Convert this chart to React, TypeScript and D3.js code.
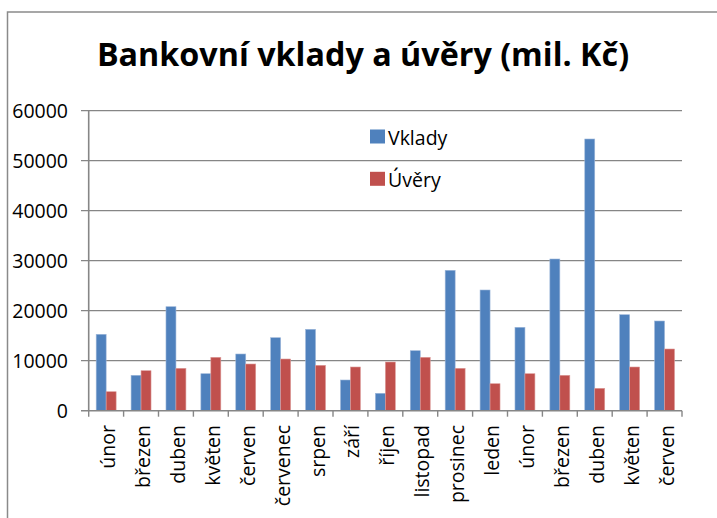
import React from "react";
import * as d3 from "d3";

const categories = ["únor", "březen", "duben", "květen", "červen", "červenec", "srpen", "září", "říjen", "listopad", "prosinec", "leden", "únor", "březen", "duben", "květen", "červen"];
const vklady = [15280, 7080, 20800, 7400, 11340, 14600, 16280, 6140, 3480, 12000, 28080, 24140, 16680, 30340, 54340, 19200, 17940];
const uvery = [3800, 8000, 8480, 10680, 9340, 10340, 9080, 8740, 9740, 10680, 8480, 5400, 7400, 7080, 4480, 8740, 12340];
const yTicks = [0, 10000, 20000, 30000, 40000, 50000, 60000];
const seriesNames = ["Vklady", "Úvěry"];
const colors = ["#4F81BD", "#C0504D"];

const W = 717;
const H = 518;
const FONT = "'Open Sans', 'Liberation Sans', sans-serif";

export default function App() {
  const left = 88.7;
  const right = 682;
  const top = 110.7;
  const bottom = 410.7;
  const idx = categories.map((_, i) => String(i));
  const x = d3.scaleBand<string>().domain(idx).range([left, right]).paddingInner(0).paddingOuter(0);
  const y = d3.scaleLinear().domain([0, 60000]).range([bottom, top]);
  const bw = x.bandwidth();
  const barW = bw / 3.5;
  const gridColor = "#868686";
  const series = [vklady, uvery];

  return (
    <svg width={W} height={H} style={{ position: "absolute", left: 0, top: 0 }} xmlns="http://www.w3.org/2000/svg">
      <rect x={0} y={0} width={W} height={H} fill="#fff" />
      <rect x={7.5} y={12} width={W + 10} height={H + 10} fill="none" stroke="#8a8a8a" strokeWidth={1.5} />
      <text x={363} y={65.5} textAnchor="middle" fontFamily={FONT} fontWeight="bold" fontSize={32.3} fill="#000">
        Bankovní vklady a úvěry (mil. Kč)
      </text>
      {yTicks.map((t) => (
        <g key={t}>
          {t !== 0 && (
            <line x1={81} x2={right} y1={y(t)} y2={y(t)} stroke={gridColor} strokeWidth={1.2} />
          )}
          <text x={68} y={y(t)} dy="0.36em" textAnchor="end" fontFamily={FONT} fontSize={19.5} fill="#000">
            {t}
          </text>
        </g>
      ))}
      {series.map((vals, si) =>
        vals.map((v, i) => (
          <rect
            key={si + "-" + i}
            x={(x(String(i)) as number) + (bw - 2 * barW) / 2 + si * barW}
            y={y(v)}
            width={barW}
            height={bottom - y(v)}
            fill={colors[si]}
            stroke={si === 0 ? "#9db7da" : "#dc9c9a"}
            strokeWidth={0.6}
          />
        ))
      )}
      <line x1={left} x2={left} y1={top} y2={bottom} stroke={gridColor} strokeWidth={1.6} />
      <line x1={81} x2={right} y1={bottom} y2={bottom} stroke={gridColor} strokeWidth={1.6} />
      {idx.concat([String(categories.length)]).map((k, i) => {
        const xx = i < categories.length ? (x(k) as number) : right;
        return <line key={"t" + i} x1={xx} x2={xx} y1={bottom} y2={bottom + 6} stroke={gridColor} strokeWidth={1.4} />;
      })}
      {categories.map((c, i) => {
        const cx = (x(String(i)) as number) + bw / 2 + 1.5;
        return (
          <text
            key={"l" + i}
            transform={`translate(${cx},425) rotate(-90)`}
            textAnchor="end"
            dominantBaseline="central"
            fontFamily={FONT}
            fontSize={19.5}
            fill="#000"
          >
            {c}
          </text>
        );
      })}
      {seriesNames.map((n, i) => (
        <g key={n} transform={`translate(370,${129.5 + i * 42.3})`}>
          <rect x={0} y={0} width={15} height={14} fill={colors[i]} />
          <text x={18} y={15} fontFamily={FONT} fontSize={19.5} fill="#000">
            {n}
          </text>
        </g>
      ))}
    </svg>
  );
}
